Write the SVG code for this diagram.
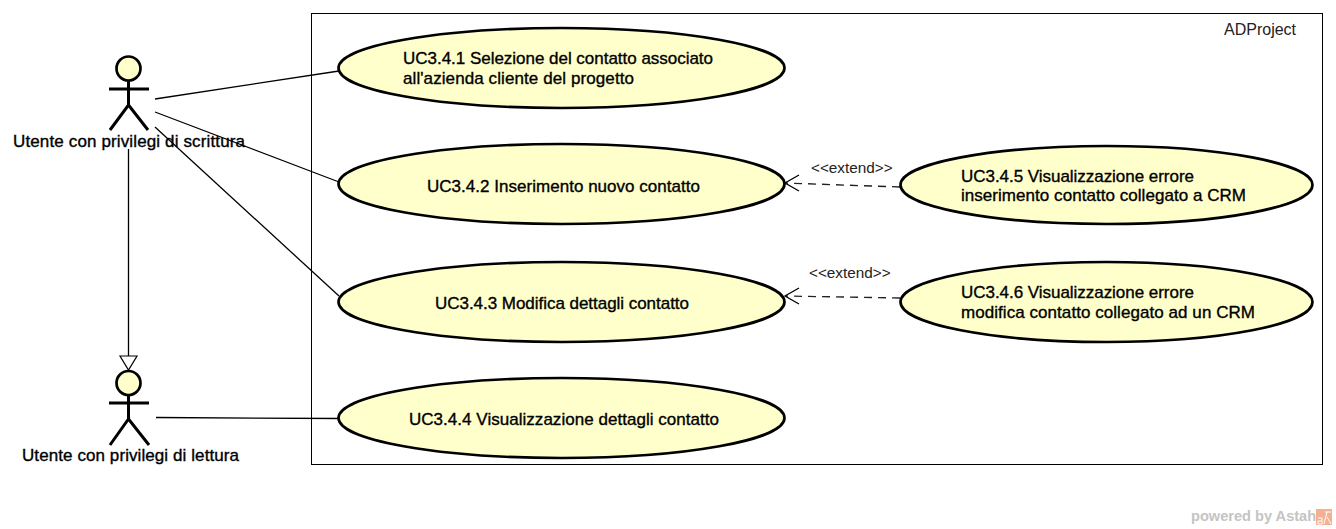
<svg xmlns="http://www.w3.org/2000/svg" width="1336" height="529" viewBox="0 0 1336 529">
<style>
text{font-family:"Liberation Sans",Arial,sans-serif;fill:#000}
.uc{font-size:17px;stroke:#000;stroke-width:.35px}
.lb{font-size:15.300px;fill:#222}
.e{fill:#ffffcc;stroke:#000;stroke-width:2.700}
.a{fill:none;stroke:#000;stroke-width:3}
.c{fill:none;stroke:#000;stroke-width:1.300}
.d{fill:none;stroke:#222;stroke-width:1.300;stroke-dasharray:8 6}
</style>
<rect width="1336" height="529" fill="#fff"/>
<g id="system"><rect x="311.500" y="13.500" width="1011" height="451" fill="#fff" stroke="#000" stroke-width="1"/><text x="1224" y="35" class="lb" style="font-size:16px">ADProject</text></g>
<g id="connectors">
<path class="c" d="M155 99L339 71M155 112L339 182M155 127L339 296M156 417.500L339 418.500M128.500 149V356"/>
<path d="M120 356H137L128.500 370Z" fill="#fff" stroke="#000" stroke-width="1.200"/>
<path class="d" d="M900 187L786 183"/><path class="c" d="M799 175L785 183L799 191"/>
<path class="d" d="M900 298L786 296"/><path class="c" d="M799 288L785 296L799 304"/>
<text x="811" y="173" class="lb">&lt;&lt;extend&gt;&gt;</text>
<text x="809" y="278" class="lb">&lt;&lt;extend&gt;&gt;</text>
</g>
<g id="actor-scrittura"><circle class="e" cx="128.500" cy="68.500" r="12"/><path class="a" d="M128.500 81V105M109 89H149M110 130L128.500 105L148 130"/><text x="13" y="147" class="uc" textLength="232">Utente con privilegi di scrittura</text></g>
<g id="actor-lettura"><circle class="e" cx="128.500" cy="383" r="12"/><path class="a" d="M128.500 395V419M109 403H149M110 445L128.500 419L149 445"/><text x="22" y="461" class="uc" textLength="217">Utente con privilegi di lettura</text></g>
<g id="uc341"><ellipse class="e" cx="561.500" cy="68" rx="223" ry="40"/><text x="403" y="64" class="uc" textLength="310">UC3.4.1 Selezione del contatto associato</text><text x="403" y="84" class="uc" textLength="231">all'azienda cliente del progetto</text></g>
<g id="uc342"><ellipse class="e" cx="561.500" cy="184" rx="223" ry="40"/><text x="427" y="192" class="uc" textLength="273">UC3.4.2 Inserimento nuovo contatto</text></g>
<g id="uc343"><ellipse class="e" cx="561.500" cy="302" rx="223" ry="40"/><text x="435" y="309" class="uc" textLength="254">UC3.4.3 Modifica dettagli contatto</text></g>
<g id="uc344"><ellipse class="e" cx="561.500" cy="418" rx="223" ry="40"/><text x="409" y="425" class="uc" textLength="310">UC3.4.4 Visualizzazione dettagli contatto</text></g>
<g id="uc345"><ellipse class="e" cx="1106.500" cy="185" rx="206" ry="39"/><text x="961" y="182" class="uc" textLength="233">UC3.4.5 Visualizzazione errore</text><text x="961" y="201" class="uc" textLength="285">inserimento contatto collegato a CRM</text></g>
<g id="uc346"><ellipse class="e" cx="1106.500" cy="302" rx="206" ry="40"/><text x="961" y="298" class="uc" textLength="233">UC3.4.6 Visualizzazione errore</text><text x="961" y="318" class="uc" textLength="294">modifica contatto collegato ad un CRM</text></g>
<g id="watermark"><text x="1191" y="521" style="font-size:14.600px;font-weight:bold;fill:#c4c4c4">powered by Astah</text><rect x="1316" y="509" width="16" height="16" fill="#f4b090"/><path d="M1325 512H1331M1327 512L1324 524M1327 517L1331 524M1318 518H1322V524H1318V521H1322" fill="none" stroke="#fff" stroke-width="1"/></g>
</svg>
